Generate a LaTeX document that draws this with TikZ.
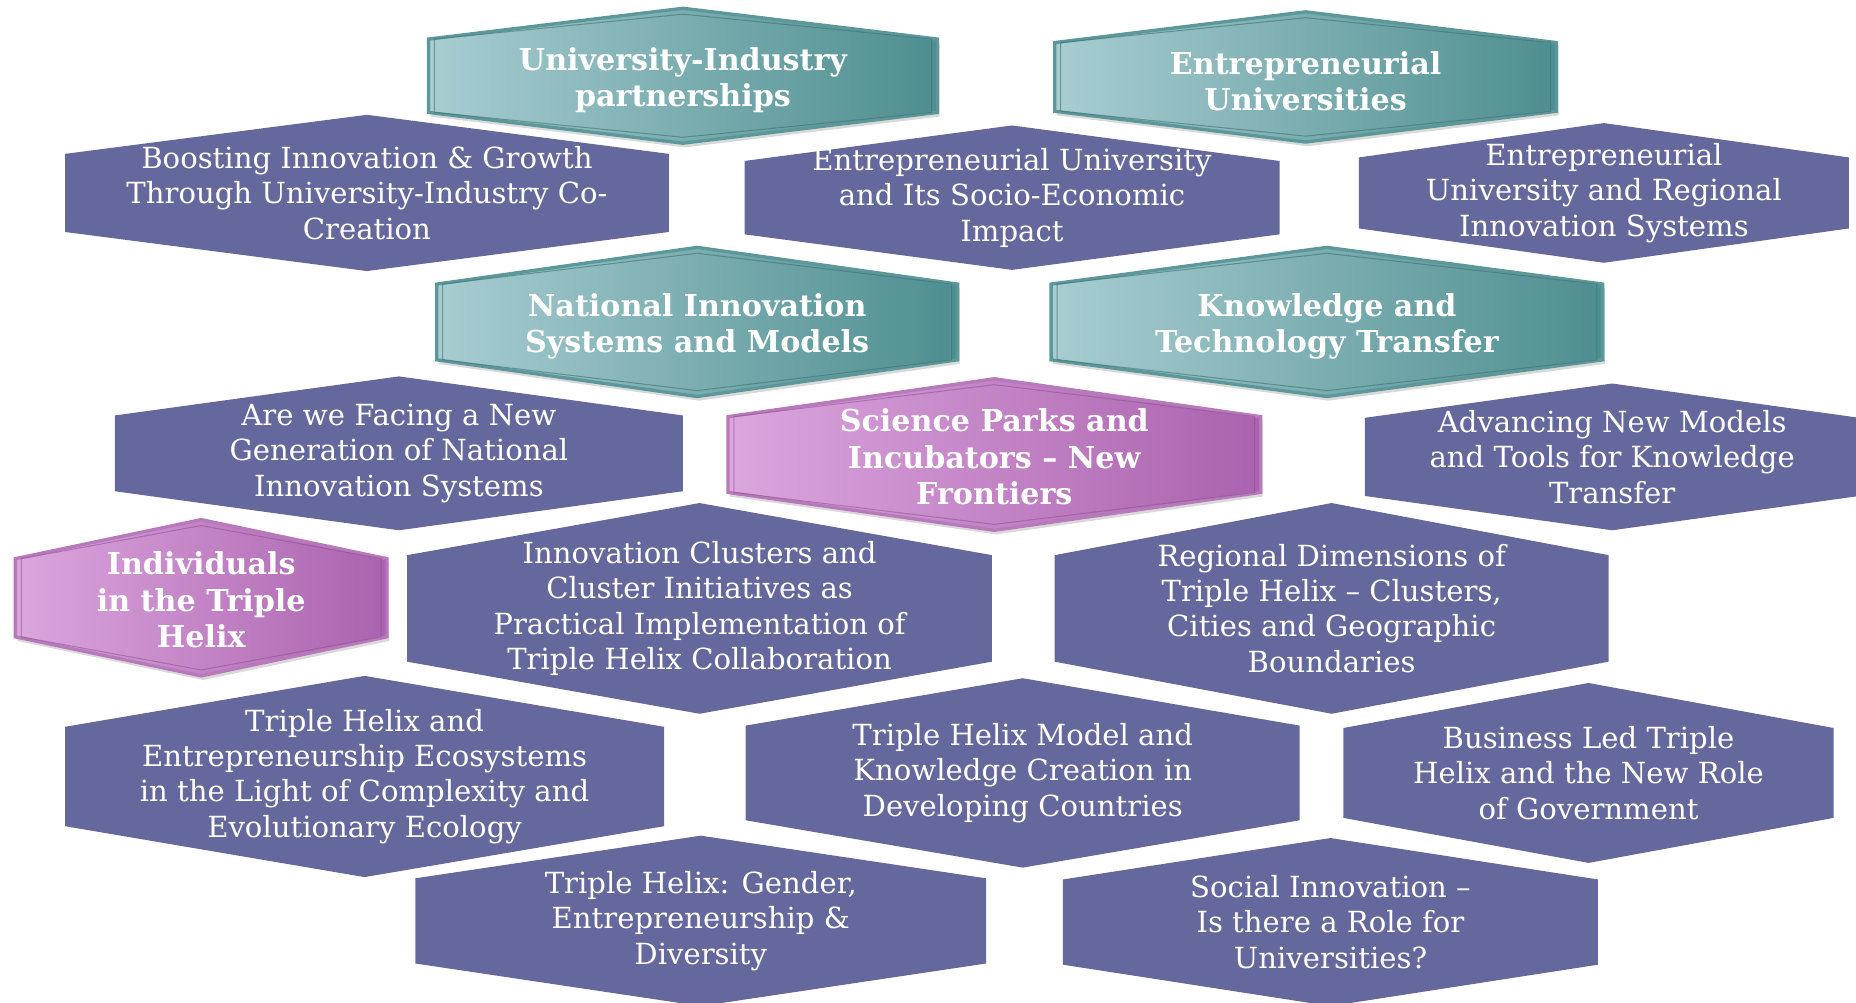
\documentclass[tikz,border=0pt]{standalone}
\usepackage{fontspec}
\setmainfont{DejaVu Serif}
\usetikzlibrary{shadows}

\definecolor{cellpurple}{RGB}{101,104,156}
\definecolor{tealL}{RGB}{168,205,209}
\definecolor{tealR}{RGB}{78,142,144}
\definecolor{tealrim}{RGB}{92,152,154}
\definecolor{pinkL}{RGB}{220,166,222}
\definecolor{pinkR}{RGB}{170,98,174}
\definecolor{pinkrim}{RGB}{184,120,188}

\tikzset{
  topic/.style={fill=cellpurple},
  topic rim/.style={},
  topic text/.style={text=white,align=center,font=\fontsize{14}{17}\selectfont},
  theme/.style={left color=tealL,right color=tealR,draw=tealrim,line width=1.6pt,
    drop shadow={opacity=0.3,shadow xshift=1pt,shadow yshift=-2pt}},
  theme rim/.style={draw=tealR!80!black,line width=0.5pt,opacity=0.6},
  theme text/.style={text=white,align=center,yshift=-0.07cm,
    font=\fontsize{14.5}{17.5}\selectfont\bfseries},
  focus/.style={left color=pinkL,right color=pinkR,draw=pinkrim,line width=1.6pt,
    drop shadow={opacity=0.3,shadow xshift=1pt,shadow yshift=-2pt}},
  focus rim/.style={draw=pinkR!80!black,line width=0.5pt,opacity=0.5},
  focus text/.style={text=white,align=center,yshift=-0.04cm,
    font=\fontsize{14.5}{17.5}\selectfont\bfseries},
}

% #1 look, #2 name, #3 cx, #4 cy, #5 half width, #6 half side, #7 tip, #8 text
\newcommand{\hexcell}[8]{%
  \path[#1] ({#3-#5},{#4-#6}) -- (#3,{#4-#6-#7}) -- ({#3+#5},{#4-#6})
    -- ({#3+#5},{#4+#6}) -- (#3,{#4+#6+#7}) -- ({#3-#5},{#4+#6}) -- cycle;
  \path[#1 rim] ({#3-#5+5},{#4-#6}) -- (#3,{#4-#6-#7+5}) -- ({#3+#5-5},{#4-#6})
    -- ({#3+#5-5},{#4+#6}) -- (#3,{#4+#6+#7-5}) -- ({#3-#5+5},{#4+#6}) -- cycle;
  \node[#1 text] (#2) at (#3,#4) {#8};
}

\begin{document}
\begin{tikzpicture}[x=0.02cm,y=-0.02cm]

        \useasboundingbox (0,0) rectangle (1568,847);
        \clip (0,0) rectangle (1568,847);

        % Row 1: headings
        \hexcell{theme}{unind}{577}{64}{215}{31}{26}{University-Industry\\partnerships}
        \hexcell{theme}{entuni}{1103}{65}{212}{29}{26}{Entrepreneurial\\Universities}

        % Row 2
        \hexcell{topic}{boost}{310}{163}{255}{33}{33}{Boosting Innovation \& Growth\\Through University-Industry Co-\\Creation}
        \hexcell{topic}{socio}{855}{167}{226}{31}{30}{Entrepreneurial University\\and Its Socio-Economic\\Impact}
        \hexcell{topic}{regsys}{1355}{163}{207}{30}{29}{Entrepreneurial\\University and Regional\\Innovation Systems}

        % Row 3: headings
        \hexcell{theme}{natinn}{589}{272}{220}{32}{31}{National Innovation\\Systems and Models}
        \hexcell{theme}{ktt}{1121}{272}{233}{32}{31}{Knowledge and\\Technology Transfer}

        % Row 4
        \hexcell{topic}{newgen}{337}{383}{240}{32}{33}{Are we Facing a New\\Generation of National\\Innovation Systems}
        \hexcell{focus}{parks}{840}{384}{225}{32}{32}{Science Parks and\\Incubators -- New\\Frontiers}
        \hexcell{topic}{tools}{1362}{386}{209}{33}{29}{Advancing New Models\\and Tools for Knowledge\\Transfer}

        % Row 5
        \hexcell{focus}{indiv}{170}{505}{157}{33}{33}{Individuals\\in the Triple\\Helix}
        \hexcell{topic}{clust}{591}{514}{247}{45}{44}{Innovation Clusters and\\Cluster Initiatives as\\Practical Implementation of\\Triple Helix Collaboration}
        \hexcell{topic}{regdim}{1125}{514}{234}{45}{44}{Regional Dimensions of\\Triple Helix -- Clusters,\\Cities and Geographic\\Boundaries}

        % Row 6
        \hexcell{topic}{ecosys}{308}{656}{253}{42}{43}{Triple Helix and\\Entrepreneurship Ecosystems\\in the Light of Complexity and\\Evolutionary Ecology}
        \hexcell{topic}{thmodel}{864}{653}{234}{40}{40}{Triple Helix Model and\\Knowledge Creation in\\Developing Countries}
        \hexcell{topic}{bizled}{1342}{653}{207}{38}{38}{Business Led Triple\\Helix and the New Role\\of Government}

        % Row 7
        \hexcell{topic}{gender}{592}{778}{241}{36}{36}{Triple Helix: Gender,\\Entrepreneurship \&\\Diversity}
        \hexcell{topic}{social}{1124}{779}{226}{36}{35}{Social Innovation --\\Is there a Role for\\Universities?}

    \end{tikzpicture}
\end{document}
